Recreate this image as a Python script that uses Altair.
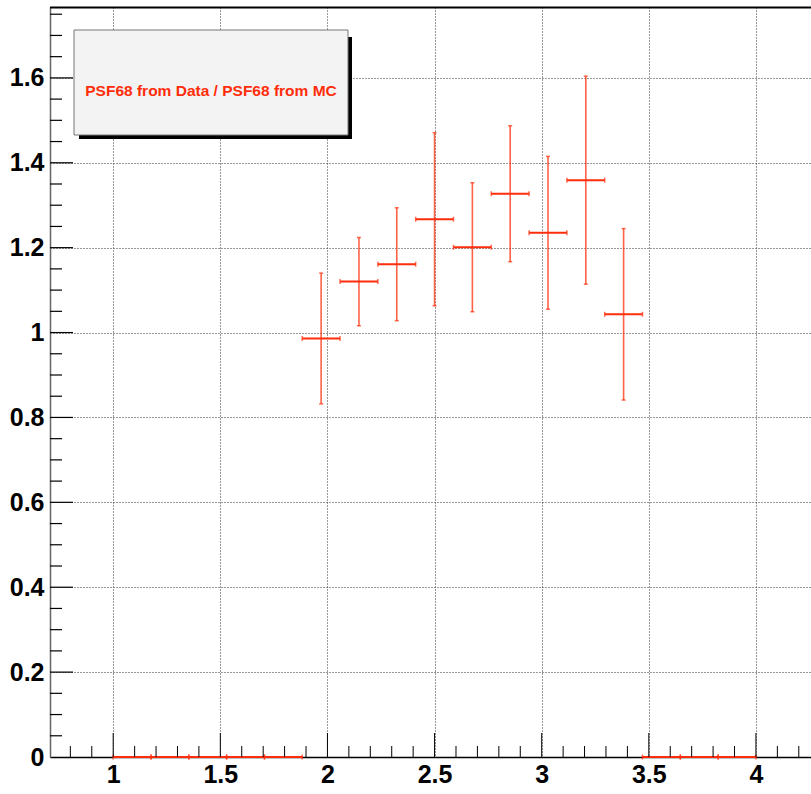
import altair as alt
import numpy as np
import pandas as pd

# Histogram binning: 17 equal bins from 1 to 4
BIN_LO, BIN_HI, N_BINS = 1.0, 4.0, 17

# PSF68(data) / PSF68(MC) per bin, with its uncertainty (empty bins are 0)
ratio = [0, 0, 0, 0, 0, 0.986, 1.120, 1.161, 1.267, 1.201, 1.327, 1.235, 1.359, 1.043, 0, 0, 0]
ratio_err = [0, 0, 0, 0, 0, 0.154, 0.104, 0.133, 0.204, 0.152, 0.160, 0.180, 0.245, 0.202, 0, 0, 0]

x_major = [1, 1.5, 2, 2.5, 3, 3.5, 4]
y_major = [0, 0.2, 0.4, 0.6, 0.8, 1, 1.2, 1.4, 1.6]

legend_text = "PSF68 from Data / PSF68 from MC"

RED = "#ff2d0a"
FONT = "Liberation Sans, Arial, Helvetica"
W, H = 761, 750

edges = np.linspace(BIN_LO, BIN_HI, N_BINS + 1)
df = pd.DataFrame({
    "x0": edges[:-1],
    "x1": edges[1:],
    "xc": 0.5 * (edges[:-1] + edges[1:]),
    "ratio": ratio,
    "err": ratio_err,
})
df["lo"] = df["ratio"] - df["err"]
df["hi"] = df["ratio"] + df["err"]
df_err = df[df["err"] > 0]

# minor / major tick positions drawn inside the frame (ROOT style)
x_tick_v = np.round(np.arange(0.8, 4.26, 0.1), 3)
x_is_major = np.isclose(np.round(x_tick_v * 2, 6) % 1, 0)
x_ticks_major = pd.DataFrame({"v": x_tick_v[x_is_major]})
x_ticks_minor = pd.DataFrame({"v": x_tick_v[~x_is_major]})

y_tick_v = np.round(np.arange(0.05, 1.76, 0.05), 3)
y_is_major = np.isclose(np.round(y_tick_v * 5, 6) % 1, 0)
y_ticks_major = pd.DataFrame({"v": y_tick_v[y_is_major]})
y_ticks_minor = pd.DataFrame({"v": y_tick_v[~y_is_major]})

xs = alt.Scale(domain=[0.705, 4.257], nice=False, zero=False)
ys = alt.Scale(domain=[0, 1.767], nice=False, zero=False)

x_axis = alt.Axis(
    values=x_major, format="~g", title=None, ticks=False, tickSize=0,
    grid=True, gridDash=[1, 2], gridColor="#333", gridWidth=1,
    domainColor="black", domainWidth=1.5,
    labelFont=FONT, labelFontSize=25, labelFontWeight="bold", labelColor="black",
    labelPadding=5, labelFlush=False,
)
y_axis = alt.Axis(
    values=y_major, format="~g", title=None, ticks=False, tickSize=0,
    grid=True, gridDash=[1, 2], gridColor="#333", gridWidth=1,
    domainColor="#666", domainWidth=1.5,
    labelFont=FONT, labelFontSize=25, labelFontWeight="bold", labelColor="black",
    labelPadding=6, labelFlush=False,
)

base = alt.Chart(df)

hbars = base.mark_rule(color=RED, strokeWidth=2).encode(
    x=alt.X("x0:Q", scale=xs, axis=x_axis),
    x2="x1:Q",
    y=alt.Y("ratio:Q", scale=ys, axis=y_axis),
)
hcap_l = base.mark_tick(color=RED, orient="vertical", size=5, thickness=1.5).encode(
    x=alt.X("x0:Q", scale=xs), y=alt.Y("ratio:Q", scale=ys)
)
hcap_r = base.mark_tick(color=RED, orient="vertical", size=5, thickness=1.5).encode(
    x=alt.X("x1:Q", scale=xs), y=alt.Y("ratio:Q", scale=ys)
)

err_base = alt.Chart(df_err)
vbars = err_base.mark_rule(color=RED, strokeWidth=1.6, opacity=0.75).encode(
    x=alt.X("xc:Q", scale=xs), y=alt.Y("lo:Q", scale=ys), y2="hi:Q"
)
vcap_lo = err_base.mark_tick(color=RED, orient="horizontal", size=4, thickness=1.5).encode(
    x=alt.X("xc:Q", scale=xs), y=alt.Y("lo:Q", scale=ys)
)
vcap_hi = err_base.mark_tick(color=RED, orient="horizontal", size=4, thickness=1.5).encode(
    x=alt.X("xc:Q", scale=xs), y=alt.Y("hi:Q", scale=ys)
)


def x_tick_layer(frame, length):
    return alt.Chart(frame).mark_rule(color="black", strokeWidth=1).encode(
        x=alt.X("v:Q", scale=xs), y=alt.value(H), y2=alt.value(H - length)
    )


def y_tick_layer(frame, length):
    return alt.Chart(frame).mark_rule(color="black", strokeWidth=1.2).encode(
        y=alt.Y("v:Q", scale=ys), x=alt.value(0), x2=alt.value(length)
    )


# top frame line
one = pd.DataFrame({"k": [0]})
top_line = alt.Chart(one).mark_rule(color="black", strokeWidth=2).encode(
    x=alt.value(0), x2=alt.value(W), y=alt.value(0.5)
)

# legend box with drop shadow
shadow = alt.Chart(one).mark_rect(color="black").encode(
    x=alt.value(29), x2=alt.value(302), y=alt.value(30), y2=alt.value(132)
)
box = alt.Chart(one).mark_rect(fill="#f3f3f3", stroke="#777", strokeWidth=1).encode(
    x=alt.value(24), x2=alt.value(298), y=alt.value(23), y2=alt.value(128)
)
label = alt.Chart(one).mark_text(
    text=legend_text, color=RED, font=FONT, fontSize=15.5, fontWeight="bold",
    align="center", baseline="middle",
).encode(x=alt.value(161), y=alt.value(84))

chart = alt.layer(
    hbars, vbars, hcap_l, hcap_r, vcap_lo, vcap_hi,
    x_tick_layer(x_ticks_major, 24), x_tick_layer(x_ticks_minor, 11),
    y_tick_layer(y_ticks_major, 23), y_tick_layer(y_ticks_minor, 12),
    top_line, shadow, box, label,
).properties(
    width=W, height=H,
    autosize=alt.AutoSizeParams(type="none"),
    padding={"left": 50, "top": 7, "right": 0, "bottom": 37},
    background="white",
).configure_view(stroke=None)

chart.save("out.html", embed_options={"renderer": "svg", "actions": False})
